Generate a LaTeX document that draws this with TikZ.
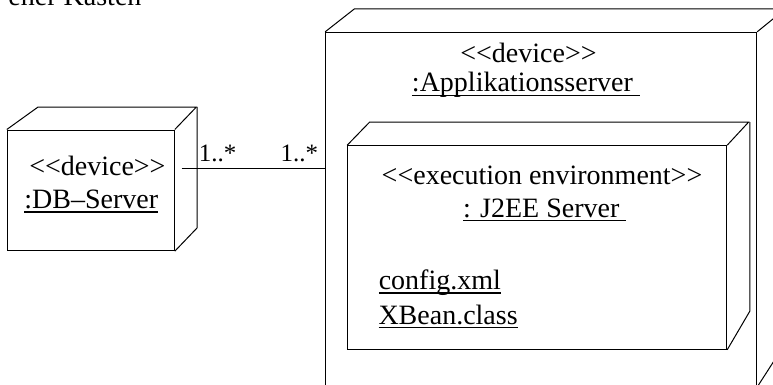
\documentclass[tikz,border=0pt]{standalone}
\usepackage{fontspec}
\setmainfont{Liberation Serif}
\newcommand\myul[1]{\setbox0\hbox{#1}\rlap{\rule[-4pt]{\wd0}{1.2pt}}\box0}
\newcommand\lgl{<\kern0pt<}
\newcommand\rgl{>\kern0pt>}
\begin{document}
\begin{tikzpicture}[x=1pt,y=-1pt,line width=1pt,
  box/.style={draw, rectangle, inner sep=0pt, line join=miter},
  face/.style={line join=miter},
  txt/.style={inner sep=0pt, font=\fontsize{28}{32}\selectfont},
  mult/.style={inner sep=0pt, anchor=base west, font=\fontsize{25}{28}\selectfont}]
\clip (0,0) rectangle (773,385);
% clipped text at top
\node[txt, anchor=base west] (top) at (8,6) {eher Kasten};
% DB server node
\node[box, minimum width=167pt, minimum height=120.7pt] (db) at (90.8,190.35) {};
\draw[face] (db.north west) -- ++(31,-22.3) -- ++(158.4,0) -- (db.north east);
\draw[face] (db.north east) ++(22.4,-22.3) -- ++(0,120.6) -- (db.south east);
\node[txt, anchor=base] (dbst) at (97.4,175) {\lgl device\rgl};
\node[txt, anchor=base] (dbname) at (91.2,208.5) {\myul{:DB–Server}};
% application server node
\node[box, minimum width=431pt, minimum height=354.2pt] (app) at (541.2,209.4) {};
\draw[face] (app.north west) -- ++(29.3,-23) -- ++(431,0) -- (app.north east);
\draw[face] (app.north east) ++(29.3,-23) -- ++(0,332.7) -- (app.south east);
\node[txt, anchor=base] (appst) at (528.5,63) {\lgl device\rgl};
\node[txt, anchor=base] (appname) at (525.9,92) {\myul{:Applikationsserver\ }};
% J2EE execution environment node
\node[box, minimum width=379pt, minimum height=203.6pt] (j2) at (537.2,247.5) {};
\draw[face] (j2.north west) -- ++(22.3,-23) -- ++(379,0) -- (j2.north east);
\draw[face] (j2.north east) ++(22.6,-23) -- ++(0,189) -- (j2.south east);
\node[txt, anchor=base] (j2st) at (542,184) {\lgl execution environment\rgl};
\node[txt, anchor=base] (j2name) at (544.7,217) {\myul{: J2EE Server\ }};
\node[txt, anchor=base west] (cfg) at (378.3,289.5) {\myul{config.xml}};
\node[txt, anchor=base west] (xb) at (378,324) {\myul{XBean.class}};
% association
\coordinate (c1) at (181.7,168.3);
\draw (c1) -- (app.west |- c1);
\node[mult] (m1) at (198.3,161) {1..*};
\node[mult] (m2) at (280,161) {1..*};
\end{tikzpicture}
\end{document}
